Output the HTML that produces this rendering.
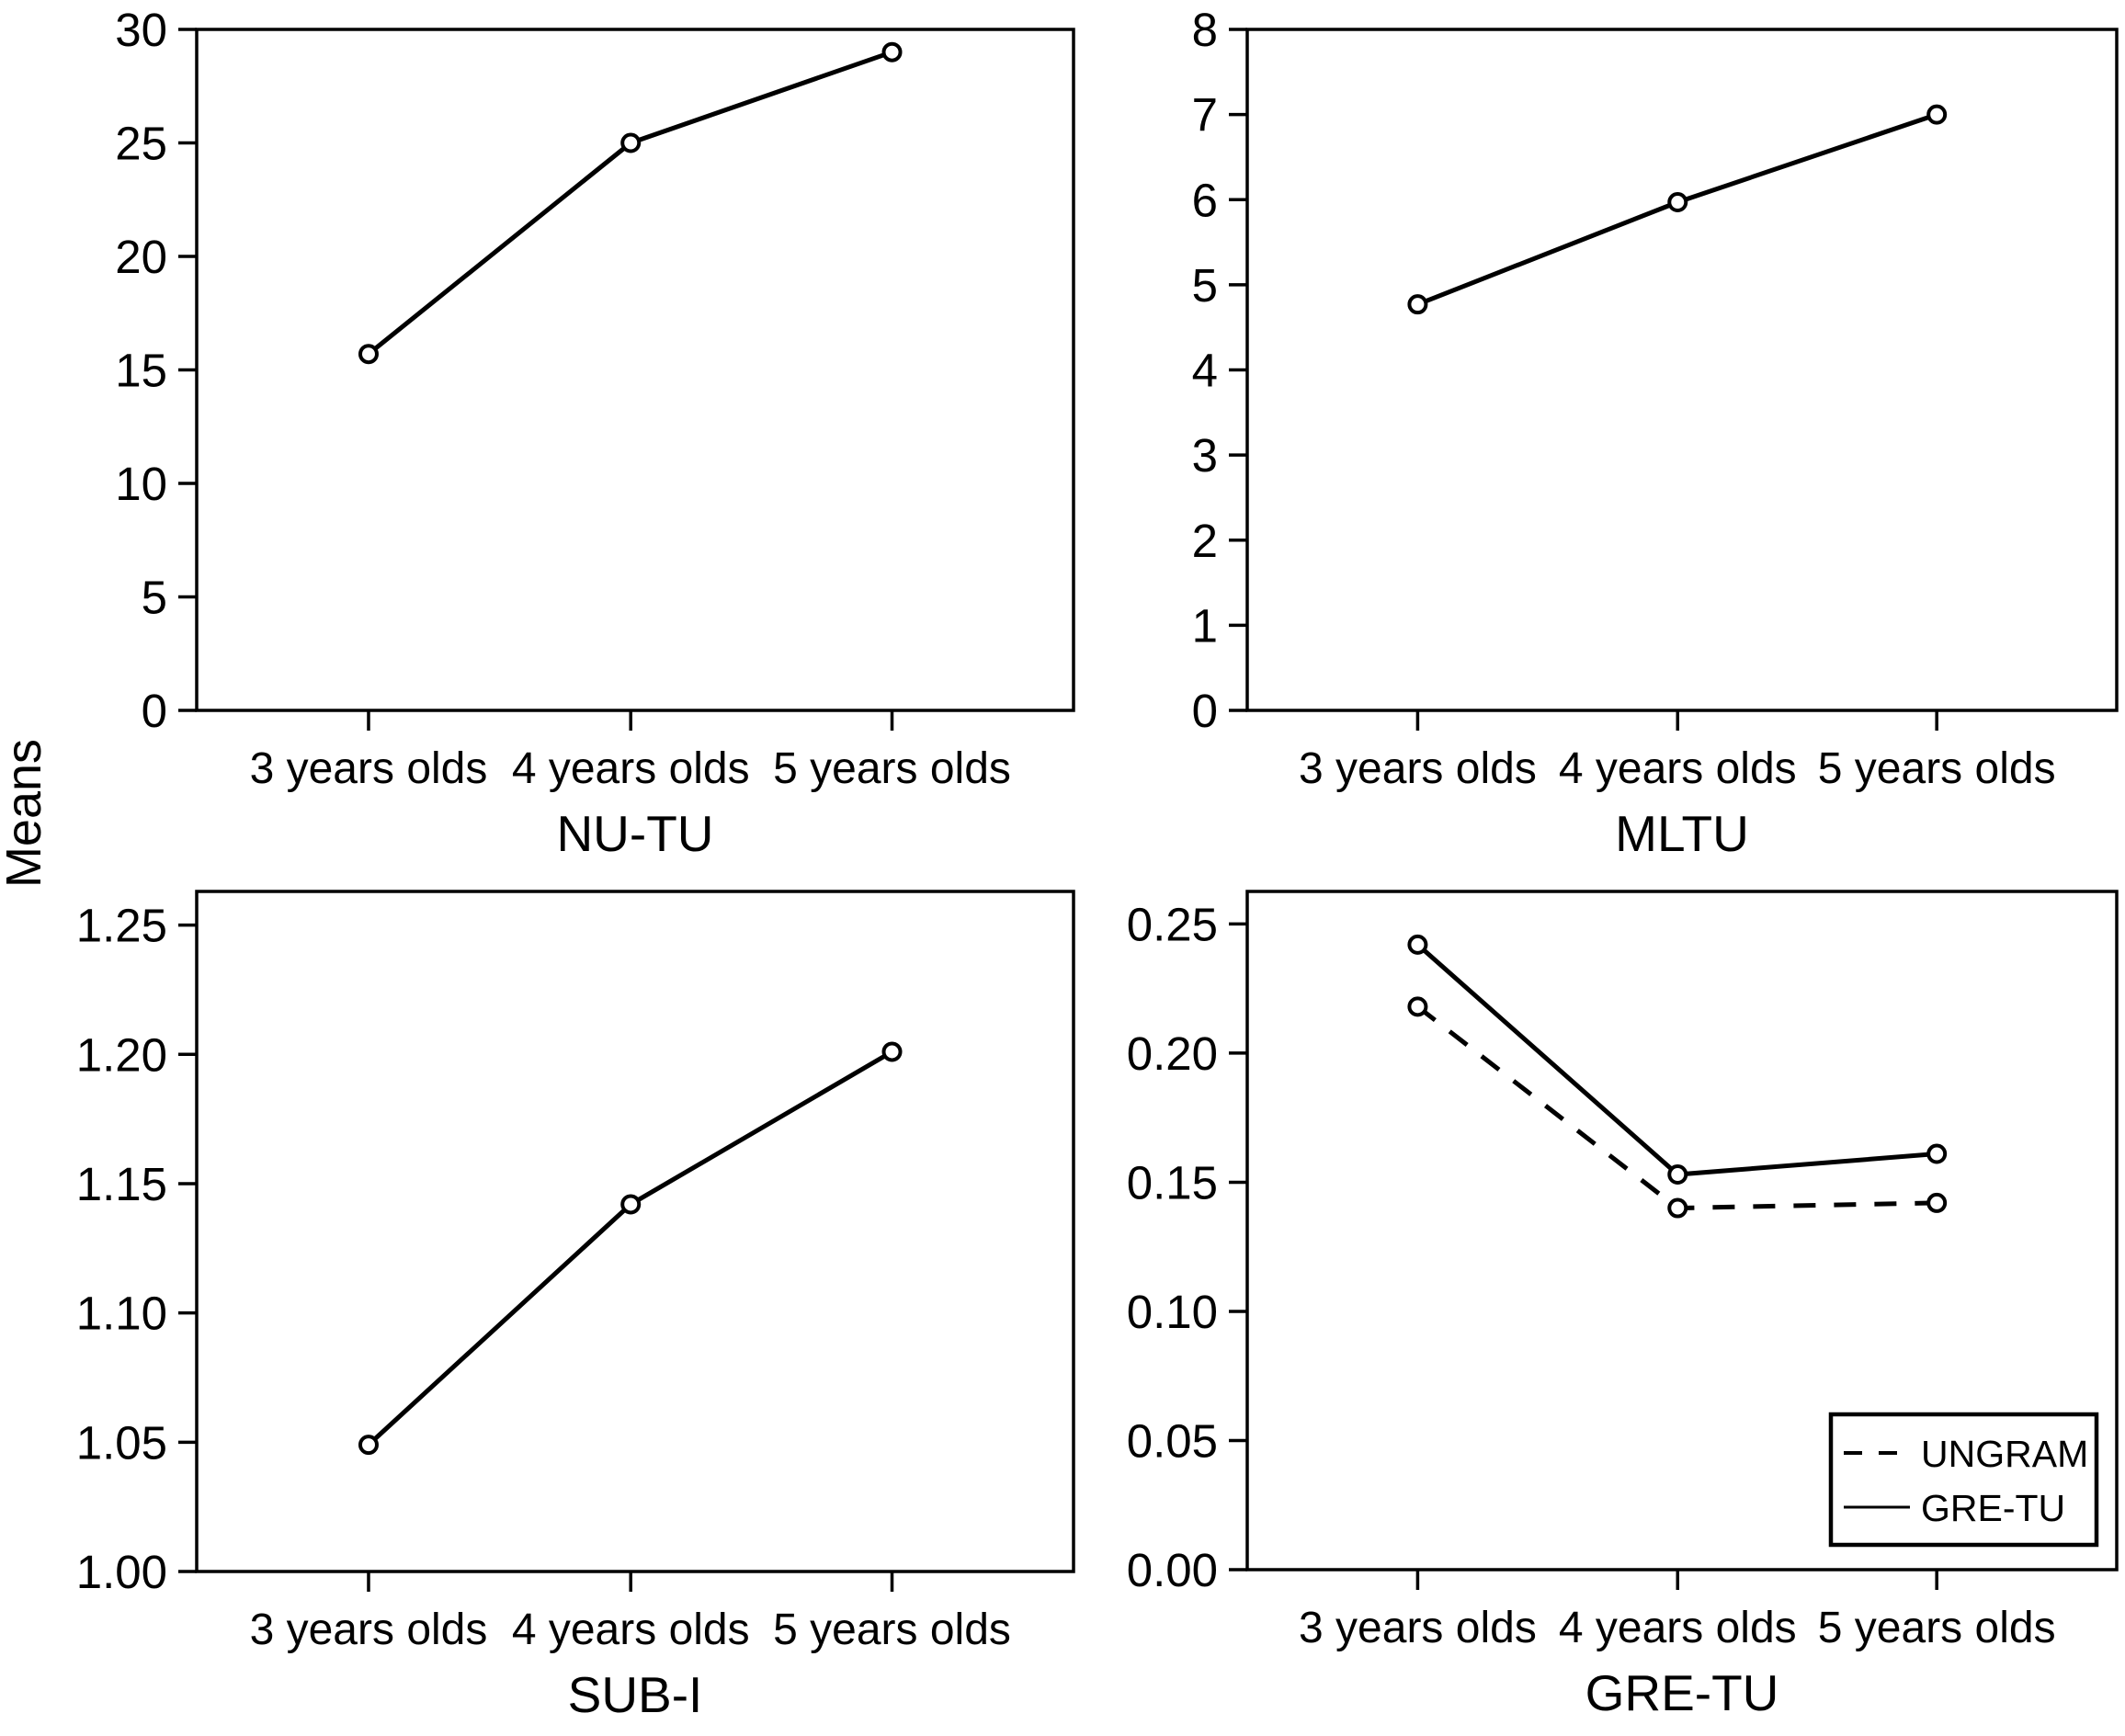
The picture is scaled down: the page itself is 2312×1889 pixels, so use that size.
<!DOCTYPE html>
<html><head><meta charset="utf-8">
<style>
html,body{margin:0;padding:0;background:#fff;}
svg{display:block;font-family:"Liberation Sans",Arial,sans-serif;}
</style></head>
<body>
<svg id="fig" width="2312" height="1889" viewBox="0 0 2312 1889" xmlns="http://www.w3.org/2000/svg">
<text x="44" y="885" font-size="54" text-anchor="middle" transform="rotate(-90 44 885)">Means</text>
</svg>
<script>
const categories = ["3 years olds","4 years olds","5 years olds"];
const nutuValues = [15.7, 25.0, 29.0];
const nutuTicks = ["0","5","10","15","20","25","30"];
const mltuValues = [4.77, 5.97, 7.0];
const mltuTicks = ["0","1","2","3","4","5","6","7","8"];
const subiValues = [1.049, 1.142, 1.201];
const subiTicks = ["1.00","1.05","1.10","1.15","1.20","1.25"];
const ungramValues = [0.218, 0.140, 0.142];
const gretuValues = [0.242, 0.153, 0.161];
const gretuTicks = ["0.00","0.05","0.10","0.15","0.20","0.25"];

const NS = "http://www.w3.org/2000/svg";
const svg = document.getElementById('fig');
function mk(tag, attrs, parent){
  const e = document.createElementNS(NS, tag);
  for (const k in attrs) e.setAttribute(k, attrs[k]);
  (parent||svg).appendChild(e);
  return e;
}
function panel(cfg){
  const g = mk('g', {});
  
  
  const L=cfg.x0, R=cfg.x1, T=cfg.y0, B=cfg.y1;
  const y = v => B - (v - cfg.min) / (cfg.max - cfg.min) * (B - T);
  const xs = [L + (R-L)*0.196, L + (R-L)*0.495, L + (R-L)*0.793];
  const x = i => xs[i];
  const frame = mk('rect', {x:L, y:T, width:R-L, height:B-T, fill:'none', stroke:'#000', 'stroke-width':3.5}, g);
  
  
  cfg.ticks.forEach(t => {
    const v = parseFloat(t);
    const yy = y(v);
    const tk = mk('line', {x1:L-20, x2:L, y1:yy, y2:yy, stroke:'#000', 'stroke-width':3.5}, g);
    
    
    const tl = mk('text', {x:L-32, y:yy+18, 'font-size':51, 'text-anchor':'end'}, g);
    tl.textContent = t;
    
    
  });
  categories.forEach((c,i) => {
    const tk = mk('line', {x1:x(i), x2:x(i), y1:B, y2:B+22, stroke:'#000', 'stroke-width':3.5}, g);
    
    
    const tl = mk('text', {x:x(i), y:B+79, 'font-size':48, 'text-anchor':'middle'}, g);
    tl.textContent = c;
    
    
  });
  const title = mk('text', {x:(L+R)/2, y:B+153, 'font-size':55, 'text-anchor':'middle'}, g);
  title.textContent = cfg.title;
  
  
  cfg.series.forEach(s => {
    const pts = s.values.map((v,i) => x(i) + ',' + y(v)).join(' ');
    const pl = mk('polyline', {points:pts, fill:'none', stroke:'#000', 'stroke-width':5, 'stroke-dasharray': s.dash ? '24 20' : 'none'}, g);
    
    
    s.values.forEach((v,i) => {
      const c = mk('circle', {cx:x(i), cy:y(v), r:9, fill:'#fff', stroke:'#000', 'stroke-width':4}, g);
      
      
    });
  });
}
panel({name:'nu-tu', title:'NU-TU', x0:214, x1:1168, y0:32, y1:773, min:0, max:30, ticks:nutuTicks, series:[{name:'nu-tu', values:nutuValues}]});
panel({name:'mltu', title:'MLTU', x0:1357, x1:2303, y0:32, y1:773, min:0, max:8, ticks:mltuTicks, series:[{name:'mltu', values:mltuValues}]});
panel({name:'sub-i', title:'SUB-I', x0:214, x1:1168, y0:970, y1:1710, min:1.0, max:1.263, ticks:subiTicks, series:[{name:'sub-i', values:subiValues}]});
panel({name:'gre-tu', title:'GRE-TU', x0:1357, x1:2303, y0:970, y1:1708, min:0, max:0.2626, ticks:gretuTicks, series:[{name:'ungram', values:ungramValues, dash:true},{name:'gre-tu', values:gretuValues}]});

// legend
const lg = mk('g', {});


const lb = mk('rect', {x:1992, y:1539, width:289, height:142, fill:'#fff', stroke:'#000', 'stroke-width':4.5}, lg);


const l1 = mk('line', {x1:2006, x2:2078, y1:1581, y2:1581, stroke:'#000', 'stroke-width':4, 'stroke-dasharray':'20 18'}, lg);


const t1 = mk('text', {x:2090, y:1596, 'font-size':41}, lg);
t1.textContent = 'UNGRAM';


const l2 = mk('line', {x1:2006, x2:2078, y1:1640, y2:1640, stroke:'#000', 'stroke-width':3}, lg);


const t2 = mk('text', {x:2090, y:1655, 'font-size':41}, lg);
t2.textContent = 'GRE-TU';


</script>
</body></html>
